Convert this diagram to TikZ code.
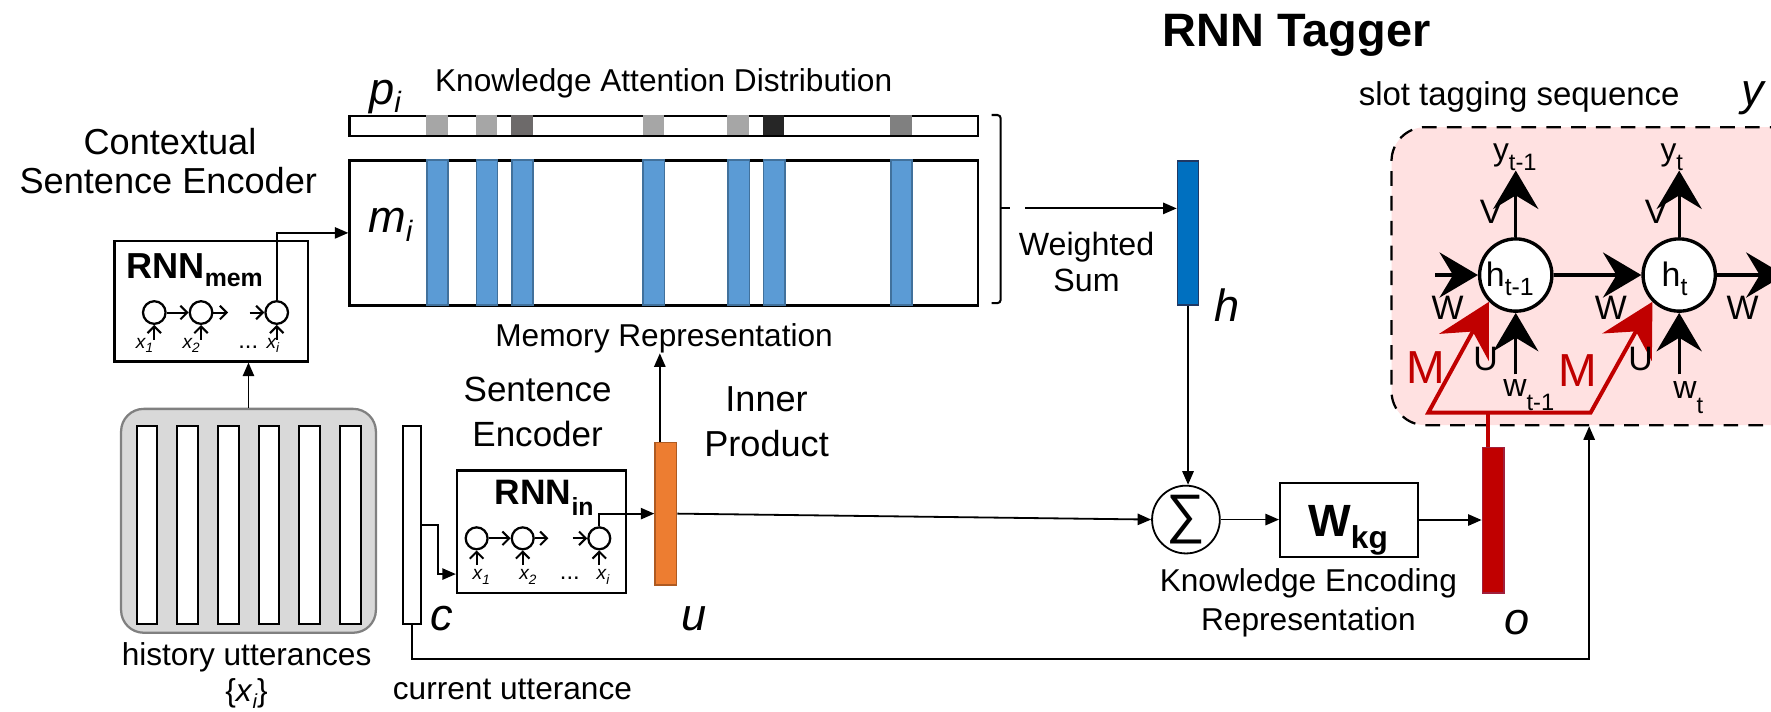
\documentclass[tikz,border=0pt]{standalone}
\usepackage{fontspec}
\setmainfont{Liberation Sans}
\usetikzlibrary{arrows.meta,calc}
\definecolor{barblue}{HTML}{5B9BD5}
\definecolor{barblueb}{HTML}{41719C}
\definecolor{hblue}{HTML}{0070C0}
\definecolor{hblueb}{HTML}{1F3864}
\definecolor{uorange}{HTML}{ED7D31}
\definecolor{uorangeb}{HTML}{AE5A21}
\definecolor{ored}{HTML}{C00000}
\definecolor{oredb}{HTML}{A0203C}
\definecolor{pinkfill}{HTML}{FFE1E1}
\definecolor{histfill}{HTML}{D9D9D9}
\definecolor{histdraw}{HTML}{808080}
\definecolor{pA}{HTML}{A6A6A6}
\definecolor{pB}{HTML}{6D6A6A}
\definecolor{pC}{HTML}{262626}
\definecolor{pD}{HTML}{808080}
\newcommand{\fsz}[2]{\fontsize{#1}{#2}\selectfont}
\begin{document}
\begin{tikzpicture}[x=1pt,y=-1pt,
  txt/.style={inner sep=0pt, outer sep=0pt, anchor=base},
  arr/.style={line width=1.6pt, -{Triangle[length=12pt,width=10pt]}},
  sarr/.style={line width=1.8pt, -{Straight Barb[length=6pt,width=12pt]}},
  cell/.style={circle, draw, line width=2pt, fill=white, inner sep=0pt, minimum size=20pt},
  tcell/.style={circle, draw, line width=3pt, fill=white, inner sep=0pt, minimum size=64pt},
  bigarr/.style={line width=3pt, -{Stealth[length=34pt,width=40pt,inset=12pt]}},
  redpath/.style={line width=3.5pt, draw=ored, line join=miter,
     {Stealth[length=46pt,width=50pt,inset=16pt,fill=ored]}-{Stealth[length=46pt,width=50pt,inset=16pt,fill=ored]}},
  box/.style={draw, line width=2pt, inner sep=0pt, anchor=north west},
  vbar/.style={line width=1.5pt, inner sep=0pt, anchor=north west},
  bluebar/.style={vbar, fill=barblue, draw=barblueb, minimum width=18.8pt, minimum height=128.4pt},
  psq/.style={inner sep=0pt, anchor=north west, minimum width=18.8pt, minimum height=17.7pt},
  wbar/.style={draw, fill=white, line width=1.8pt, inner sep=0pt, anchor=north west, minimum width=18.4pt, minimum height=175pt},
]
\clip (0,0) rectangle (1568,630);

% ---------- Tagger box ----------
\node[draw, dash pattern=on 13pt off 9pt, line width=2pt, fill=pinkfill, rounded corners=30pt,
      minimum width=400pt, minimum height=263.8pt, anchor=north west, inner sep=0pt] (tag) at (1231,111.6) {};

% ---------- history utterances ----------
\node[draw=histdraw, fill=histfill, line width=2pt, rounded corners=20pt, minimum width=225.6pt,
      minimum height=198.2pt, anchor=north west, inner sep=0pt] (hist) at (106.2,361) {};
\foreach \x [count=\i] in {120,156,192,228,264,300}{
  \node[wbar] (hb\i) at (\x,376.3) {};
}
\node[txt] (histlbl) at (218.3,588.8) {\fsz{28}{28}history utterances};
\node[txt] (histx) at (218.3,621) {\fsz{28}{28}\{\textit{x}\raisebox{-6pt}{\fsz{18}{18}\itshape i}\}};

% ---------- current utterance ----------
\node[wbar, minimum width=15.9pt] (cbar) at (355.6,376.3) {};
\node[txt, anchor=base west] (clbl) at (381,558) {\fsz{40}{40}\itshape c};
\node[txt] (curlbl) at (453.7,619) {\fsz{28}{28}current utterance};

% ---------- Contextual sentence encoder ----------
\node[txt] (ctx1) at (150.5,137.2) {\fsz{32}{32}Contextual};
\node[txt] (ctx2) at (149,171.2) {\fsz{32}{32}Sentence Encoder};
\node[box, minimum width=171.2pt, minimum height=106.5pt] (rnnmem) at (100.3,212.5) {};
\node[txt, anchor=base west] (rnnmemlbl) at (112,246.4) {\fsz{32}{32}\bfseries RNN\raisebox{-7.4pt}{\fsz{22}{22}mem}};
\node[cell] (m1) at (136.6,276.7) {};
\node[cell] (m2) at (178,276.7) {};
\node[cell] (m3) at (245,276.7) {};
\coordinate (m2o) at (202,276.7);
\coordinate (m3i) at (221,276.7);
\draw[sarr] (m1.east) -- (m2.west);
\draw[sarr] (m2.east) -- (m2o);
\draw[sarr] (m3i) -- (m3.west);
\draw[sarr] ($(m1.south)+(0,13)$) -- (m1.south);
\draw[sarr] ($(m2.south)+(0,13)$) -- (m2.south);
\draw[sarr] ($(m3.south)+(0,13)$) -- (m3.south);
\node[txt, anchor=base west] (mx1) at (120.4,308.5) {\fsz{17}{17}\itshape x\raisebox{-4pt}{\fsz{12}{12}1}};
\node[txt, anchor=base west] (mx2) at (161.7,308.5) {\fsz{17}{17}\itshape x\raisebox{-4pt}{\fsz{12}{12}2}};
\node[txt, anchor=base west] (mxd) at (211,308.5) {\fsz{21}{21}...};
\node[txt, anchor=base west] (mxi) at (236,308.5) {\fsz{17}{17}\itshape x\raisebox{-4pt}{\fsz{12}{12}i}};
\draw[arr] (hist.north) -- (hist.north |- rnnmem.south);

% ---------- memory ----------
\node[box, minimum width=556.3pt, minimum height=17.7pt] (pbar) at (308.4,101.8) {};
\node[box, minimum width=556.3pt, minimum height=128.4pt] (mbox) at (308.4,141) {};
\foreach \x/\c [count=\i] in {377.2/pA,421/pA,452.6/pB,568.8/pA,643.9/pA,675.2/pC,788.2/pD}{
  \node[psq, fill=\c] (ps\i) at (\x,101.8) {};
  \node[bluebar] (bb\i) at (\x,141) {};
}
\node[txt] (kad) at (587.6,81) {\fsz{28}{28}Knowledge Attention Distribution};
\node[txt, anchor=base west] (plbl) at (327,92.5) {\fsz{40}{40}\itshape p\raisebox{-7pt}{\fsz{26}{26}i}};
\node[txt, anchor=base west] (mlbl) at (326,206) {\fsz{40}{40}\itshape m\raisebox{-8pt}{\fsz{26}{26}i}};
\node[txt] (memtxt) at (588,307) {\fsz{28}{28}Memory Representation};
\draw[arr] (m3.north) |- (mbox.west);

% brace
\draw[line width=1.8pt, rounded corners=3pt] (878,101.8) -- (886,101.8) -- (886,268.4) -- (878,268.4);
\draw[line width=1.8pt] (886,184.5) -- (894,184.5);
\coordinate (bt) at (907.5,184.5);
\node[txt] (ws1) at (962,225.8) {\fsz{28.5}{28.5}Weighted};
\node[txt] (ws2) at (962,258.2) {\fsz{28.5}{28.5}Sum};

% ---------- h ----------
\node[vbar, fill=hblue, draw=hblueb, minimum width=18.6pt, minimum height=127.5pt] (hbar) at (1041.8,141.7) {};
\node[txt, anchor=base west] (hlbl) at (1075,285) {\fsz{40}{40}\itshape h};
\draw[arr] (bt) -- (bt -| hbar.west);

% ---------- sentence encoder ----------
\node[txt] (se1) at (476,355.5) {\fsz{31}{31}Sentence};
\node[txt] (se2) at (476,395.5) {\fsz{31}{31}Encoder};
\node[box, minimum width=149.7pt, minimum height=108.3pt] (rnnin) at (403.6,415.5) {};
\node[txt, anchor=base west] (rnninlbl) at (438.2,447.1) {\fsz{31.3}{31.3}\bfseries RNN\raisebox{-9pt}{\fsz{22}{22}in}};
\node[cell, minimum size=19.4pt] (n1) at (422,476.6) {};
\node[cell, minimum size=19.4pt] (n2) at (462.8,476.6) {};
\node[cell, minimum size=19.4pt] (n3) at (530.6,476.6) {};
\coordinate (n2o) at (485.5,476.6);
\coordinate (n3i) at (507,476.6);
\draw[sarr] (n1.east) -- (n2.west);
\draw[sarr] (n2.east) -- (n2o);
\draw[sarr] (n3i) -- (n3.west);
\draw[sarr] ($(n1.south)+(0,13)$) -- (n1.south);
\draw[sarr] ($(n2.south)+(0,13)$) -- (n2.south);
\draw[sarr] ($(n3.south)+(0,13)$) -- (n3.south);
\node[txt, anchor=base west] (nx1) at (418.5,513.5) {\fsz{17}{17}\itshape x\raisebox{-4pt}{\fsz{12}{12}1}};
\node[txt, anchor=base west] (nx2) at (459.8,513.5) {\fsz{17}{17}\itshape x\raisebox{-4pt}{\fsz{12}{12}2}};
\node[txt, anchor=base west] (nxd) at (495.8,513.5) {\fsz{21}{21}...};
\node[txt, anchor=base west] (nxi) at (528.3,513.5) {\fsz{17}{17}\itshape x\raisebox{-4pt}{\fsz{12}{12}i}};
\draw[arr] (cbar.east) -- ++(14.5,0) |- ($(rnnin.west)+(0,37.6)$);

% ---------- u ----------
\node[vbar, fill=uorange, draw=uorangeb, minimum width=18.9pt, minimum height=126pt] (u) at (579.3,391) {};
\node[txt, anchor=base west] (ulbl) at (603,558) {\fsz{40}{40}\itshape u};
\draw[arr] (n3.north) |- (u.west);
\draw[arr] ([xshift=-5.3pt]u.north) -- ([xshift=-5.3pt]u.north |- memtxt.south);
\node[txt] (ip1) at (678.7,364.5) {\fsz{32}{32}Inner};
\node[txt] (ip2) at (678.7,404.3) {\fsz{32}{32}Product};

% ---------- sum, Wkg, o ----------
\node[circle, draw, line width=1.6pt, minimum size=60pt, inner sep=0pt] (sig) at (1050,460) {\fsz{48}{48}∑};
\draw[arr] (u.east) -- (sig.west);
\draw[arr] (hbar.south) -- (hbar.south |- sig.north);
\node[box, minimum width=121.9pt, minimum height=65.8pt] (wkg) at (1132.4,426.5) {};
\node[txt, anchor=base west] (wkglbl) at (1158.3,475) {\fsz{40}{40}\bfseries W\raisebox{-10.5pt}{\fsz{28}{28}kg}};
\node[txt] (ke1) at (1158.4,523.8) {\fsz{28}{28}Knowledge Encoding};
\node[txt] (ke2) at (1158.4,557.8) {\fsz{28}{28}Representation};
\node[vbar, fill=ored, draw=oredb, minimum width=19.2pt, minimum height=128.9pt] (obar) at (1311.8,395.5) {};
\node[txt, anchor=base west] (olbl) at (1332,562) {\fsz{40}{40}\itshape o};
\draw[arr] (sig.east) -- (sig.east -| wkg.west);
\draw[arr] (wkg.east) -- (wkg.east -| obar.west);

% bottom connector
\coordinate (turn) at (1407,583.7);
\draw[arr] (cbar.south) |- (turn) -- (turn |- tag.south);

% ---------- RNN tagger ----------
\node[txt] (title) at (1148,41.3) {\fsz{41.5}{41.5}\bfseries RNN Tagger};
\node[txt, anchor=base west] (slot) at (1203,93) {\fsz{29.2}{29.2}slot tagging sequence};
\node[txt, anchor=base west] (ylbl) at (1542,93) {\fsz{40}{40}\itshape y};

\node[tcell] (ht1) at (1342,243.5) {};
\node[tcell] (ht2) at (1486.7,243.5) {};
\coordinate (inW) at (1270.5,243.5);
\coordinate (outE) at (1580,243.5);
\draw[bigarr] (inW) -- (ht1.west);
\draw[bigarr] (ht1.east) -- (ht2.west);
\draw[bigarr] (ht2.east) -- (outE);
\draw[bigarr] (ht1.north) -- ++(0,-59);
\draw[bigarr] (ht2.north) -- ++(0,-59);
\draw[bigarr] ($(ht1.south)+(0,54.5)$) -- (ht1.south);
\draw[bigarr] ($(ht2.south)+(0,54.5)$) -- (ht2.south);

\coordinate (rl) at (1264.6,365.3);
\coordinate (rr) at (1408.3,365.3);
\coordinate (rs) at (1317.7,365.3);
\draw[line width=3.5pt, draw=ored] (rs) -- (rs |- obar.north);
\draw[redpath] (ht1.225) -- (rl) -- (rr) -- (ht2.225);

\node[txt, anchor=base west] (h1lbl) at (1315.6,253.8) {\fsz{30}{30}h\raisebox{-7.4pt}{\fsz{22}{22}t-1}};
\node[txt, anchor=base west] (h2lbl) at (1471.2,253.8) {\fsz{30}{30}h\raisebox{-7.4pt}{\fsz{22}{22}t}};
\node[txt, anchor=base west] (y1lbl) at (1322,142.3) {\fsz{28}{28}y\raisebox{-8.3pt}{\fsz{21}{21}t-1}};
\node[txt, anchor=base west] (y2lbl) at (1470.2,142.3) {\fsz{28}{28}y\raisebox{-8.3pt}{\fsz{21}{21}t}};
\node[txt, anchor=base west] (v1) at (1310.3,197.7) {\fsz{30}{30}V};
\node[txt, anchor=base west] (v2) at (1456.4,197.7) {\fsz{30}{30}V};
\node[txt, anchor=base west] (w1) at (1267.5,283.3) {\fsz{30}{30}W};
\node[txt, anchor=base west] (w2) at (1412,283.3) {\fsz{30}{30}W};
\node[txt, anchor=base west] (w3) at (1528.7,283.3) {\fsz{30}{30}W};
\node[txt, anchor=base west] (u1) at (1304.4,327.6) {\fsz{30}{30}U};
\node[txt, anchor=base west] (u2) at (1441.6,327.6) {\fsz{30}{30}U};
\node[txt, anchor=base west] (wi1) at (1331,351.2) {\fsz{28.5}{28.5}w\raisebox{-12pt}{\fsz{21}{21}t-1}};
\node[txt, anchor=base west] (wi2) at (1481.5,352.7) {\fsz{28.5}{28.5}w\raisebox{-13pt}{\fsz{21}{21}t}};
\node[txt, anchor=base west, text=ored] (M1) at (1245.4,339.4) {\fsz{41}{41}M};
\node[txt, anchor=base west, text=ored] (M2) at (1379.7,342.4) {\fsz{41}{41}M};
\end{tikzpicture}
\end{document}
